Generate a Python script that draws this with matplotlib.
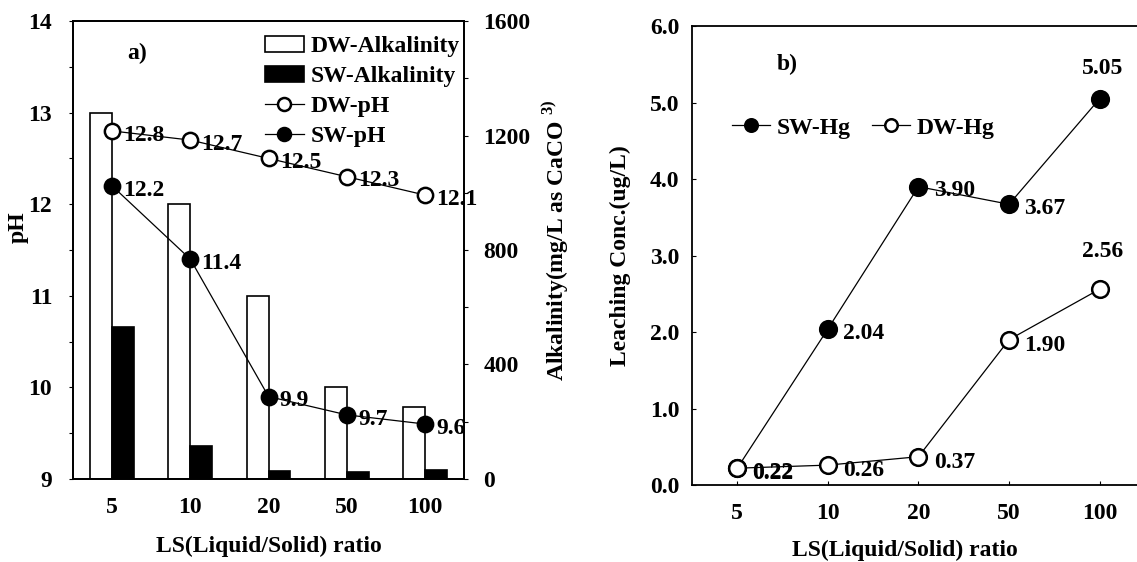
import matplotlib.pyplot as plt
import numpy as np
from matplotlib.ticker import MultipleLocator, FormatStrFormatter

plt.rcParams['font.family'] = ['Liberation Serif', 'DejaVu Serif']
plt.rcParams['font.weight'] = 'bold'
plt.rcParams['axes.labelweight'] = 'bold'
plt.rcParams['font.size'] = 17
plt.rcParams['mathtext.fontset'] = 'custom'
plt.rcParams['mathtext.rm'] = 'Liberation Serif:bold'
plt.rcParams['mathtext.bf'] = 'Liberation Serif:bold'
plt.rcParams['axes.linewidth'] = 1.3

# data
ls_ratio = ['5', '10', '20', '50', '100']
dw_alk = [1280, 960, 640, 320, 250]
sw_alk = [530, 115, 28, 24, 31]
dw_ph = [12.8, 12.7, 12.5, 12.3, 12.1]
sw_ph = [12.2, 11.4, 9.9, 9.7, 9.6]
sw_hg = [0.22, 2.04, 3.90, 3.67, 5.05]
dw_hg = [0.22, 0.26, 0.37, 1.90, 2.56]

x = np.arange(len(ls_ratio))
bw = 0.28
fs = 17

fig = plt.figure(figsize=(11.37, 5.62), dpi=100)

# ---- a) pH + alkalinity
ax_alk = fig.add_axes([0.0642, 0.1477, 0.344, 0.8149])
ax_ph = ax_alk.twinx()

ax_alk.bar(x, dw_alk, width=-bw, align='edge', facecolor='white',
           edgecolor='black', linewidth=1.2, label='DW-Alkalinity')
ax_alk.bar(x, sw_alk, width=bw, align='edge', facecolor='black',
           edgecolor='black', linewidth=1.2, label='SW-Alkalinity')
ax_alk.set_ylim(0, 1600)
ax_alk.set_xlim(-0.5, 4.5)
ax_alk.yaxis.tick_right()
ax_alk.yaxis.set_label_position('right')
ax_alk.yaxis.set_major_locator(MultipleLocator(400))
ax_alk.yaxis.set_minor_locator(MultipleLocator(200))
ax_alk.tick_params(axis='y', which='both', direction='out', length=3, pad=11, width=0.8)
ax_alk.set_ylabel(r'Alkalinity(mg/L as CaCO $^{3)}$', fontsize=fs)
ax_alk.yaxis.set_label_coords(1.235, 0.52)
ax_alk.yaxis.label.set_va('center')
ax_alk.set_xticks(x)
ax_alk.set_xticklabels(ls_ratio)
ax_alk.tick_params(axis='x', length=0, pad=13)
ax_alk.set_xlabel('LS(Liquid/Solid) ratio', fontsize=fs)
ax_alk.xaxis.set_label_coords(0.5, -0.148)
ax_alk.xaxis.label.set_va('center')

ax_ph.plot(x, dw_ph, '-', color='black', lw=0.9, marker='o', ms=11,
           mfc='white', mec='black', mew=1.8, label='DW-pH')
ax_ph.plot(x, sw_ph, '-', color='black', lw=0.9, marker='o', ms=11,
           mfc='black', mec='black', mew=1.8, label='SW-pH')
ax_ph.set_ylim(9, 14)
ax_ph.yaxis.tick_left()
ax_ph.yaxis.set_label_position('left')
ax_ph.yaxis.set_major_locator(MultipleLocator(1))
ax_ph.yaxis.set_minor_locator(MultipleLocator(0.5))
ax_ph.tick_params(axis='y', which='both', direction='out', length=3, pad=12, width=0.8)
ax_ph.set_ylabel('pH', fontsize=fs)
ax_ph.yaxis.set_label_coords(-0.141, 0.55)
ax_ph.yaxis.label.set_va('center')

for xi, v in zip(x, dw_ph):
    ax_ph.annotate('%.1f' % v, (xi, v), xytext=(8, -3), textcoords='offset points',
                   ha='left', va='center', fontsize=fs)
for xi, v in zip(x, sw_ph):
    ax_ph.annotate('%.1f' % v, (xi, v), xytext=(8, -3), textcoords='offset points',
                   ha='left', va='center', fontsize=fs)

ax_ph.text(0.164, 0.930, 'a)', transform=ax_ph.transAxes, ha='center', va='center', fontsize=fs)

h1, l1 = ax_alk.get_legend_handles_labels()
h2, l2 = ax_ph.get_legend_handles_labels()
ax_ph.legend(h1 + h2, l1 + l2, loc='upper left', bbox_to_anchor=(0.49, 0.968),
             frameon=False, borderpad=0, borderaxespad=0, handlelength=1.65,
             handletextpad=0.3, labelspacing=0.36, markerscale=0.85, fontsize=fs)

# ---- b) Hg leaching
ax_b = fig.add_axes([0.6086, 0.1370, 0.3984, 0.8167])
ax_b.plot(x, sw_hg, '-', color='black', lw=0.9, marker='o', ms=12,
          mfc='black', mec='black', mew=1.8, label='SW-Hg')
ax_b.plot(x, dw_hg, '-', color='black', lw=0.9, marker='o', ms=12,
          mfc='white', mec='black', mew=1.8, label='DW-Hg')
ax_b.set_xlim(-0.5, 4.5)
ax_b.set_ylim(0, 6)
ax_b.yaxis.set_major_locator(MultipleLocator(1))
ax_b.yaxis.set_major_formatter(FormatStrFormatter('%.1f'))
ax_b.tick_params(axis='y', direction='in', length=3, pad=9, width=0.8)
ax_b.set_xticks(x)
ax_b.set_xticklabels(ls_ratio)
ax_b.tick_params(axis='x', direction='in', length=3, pad=13, width=0.8)
ax_b.set_ylabel('Leaching Conc.(ug/L)', fontsize=fs)
ax_b.yaxis.set_label_coords(-0.159, 0.5)
ax_b.yaxis.label.set_va('center')
ax_b.set_xlabel('LS(Liquid/Solid) ratio', fontsize=fs)
ax_b.xaxis.set_label_coords(0.47, -0.142)
ax_b.xaxis.label.set_va('center')

for i, (xi, v) in enumerate(zip(x, sw_hg)):
    if i == len(x) - 1:
        ax_b.annotate('%.2f' % v, (xi, v), xytext=(2, 22), textcoords='offset points',
                      ha='center', va='center', fontsize=fs)
    else:
        ax_b.annotate('%.2f' % v, (xi, v), xytext=(11, -3), textcoords='offset points',
                      ha='left', va='center', fontsize=fs)
for i, (xi, v) in enumerate(zip(x, dw_hg)):
    if i == len(x) - 1:
        ax_b.annotate('%.2f' % v, (xi, v), xytext=(2, 27), textcoords='offset points',
                      ha='center', va='center', fontsize=fs)
    else:
        ax_b.annotate('%.2f' % v, (xi, v), xytext=(11, -4), textcoords='offset points',
                      ha='left', va='center', fontsize=fs)

ax_b.text(0.21, 0.917, 'b)', transform=ax_b.transAxes, ha='center', va='center', fontsize=fs)
ax_b.legend(loc='center left', bbox_to_anchor=(0.088, 0.778), ncol=2, frameon=False,
            borderpad=0, borderaxespad=0, handlelength=1.6, handletextpad=0.3,
            columnspacing=0.9, markerscale=0.75, fontsize=fs)

fig.savefig('out.png', dpi=100)
